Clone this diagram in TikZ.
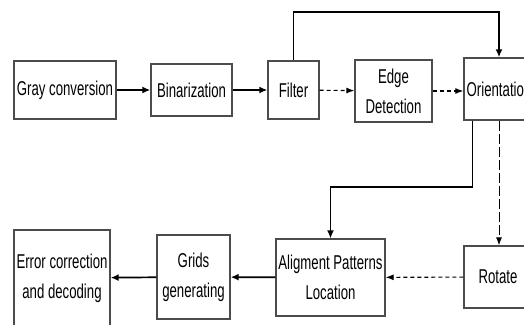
\documentclass[tikz,border=0pt]{standalone}
\usepackage{fontspec}
\setmainfont{Liberation Sans}[FakeStretch=0.66]
\usetikzlibrary{arrows.meta}

\begin{document}
\begin{tikzpicture}[x=1pt,y=-1pt,
  block/.style={rectangle,draw=black!70,line width=1.3pt,inner sep=0pt,align=center,
    font=\fontsize{20}{30}\selectfont},
  flow/.style={-{Latex[length=8pt,width=7pt]},line width=1.7pt},
  weak/.style={-{Latex[length=8pt,width=6pt]},line width=1.1pt,dash pattern=on 4pt off 3pt},
  longdash/.style={weak,line width=0.9pt,dash pattern=on 10pt off 3pt}]
\useasboundingbox (0,0) rectangle (524,324);
% first row
\node at ( 65.0, 90) (gray)   [block,minimum width=102pt,minimum height=58pt] {Gray conversion};
\node at (191.5, 90) (bin)    [block,minimum width=81pt,minimum height=52pt] {Binarization};
\node at (293.5, 90) (filter) [block,minimum width=51pt,minimum height=58pt] {Filter};
\node at (393.5, 91) (edge)   [block,minimum width=77pt,minimum height=62pt] {Edge\\Detection};
\node at (499.0, 89) (orient) [block,minimum width=70pt,minimum height=62pt] {Orientation};
% second row
\node at (498.0, 277) (rotate) [block,minimum width=68pt,minimum height=62pt] {Rotate};
\node at (330.5, 277.5) (align) [block,minimum width=109pt,minimum height=77pt] {Aligment Patterns\\Location};
\node at (193.5, 277) (grids)  [block,minimum width=73pt,minimum height=84pt] {Grids\\generating};
\node at ( 62.0, 278) (error)  [block,minimum width=96pt,minimum height=96pt] {Error correction\\and decoding};
\coordinate (loop) at (400, 12);
\coordinate (bend) at (400, 187);
\draw [flow] (gray) -- (bin);
\draw [flow] (bin) -- (filter);
\draw [weak] (filter) -- (edge);
\draw [weak] (edge) -- (orient.west |- edge);
\draw [flow] (filter.north) |- (loop) -| (orient.north);
\draw [flow,line width=1.4pt] ([xshift=9pt]orient.south west) |- (bend) -| (align.north);
\draw [longdash] (orient.south) -- (orient.south |- rotate.north);
\draw [weak] (rotate) -- (align);
\draw [flow] (align) -- (grids);
\draw [flow] (grids) -- (error);
\end{tikzpicture}
\end{document}
